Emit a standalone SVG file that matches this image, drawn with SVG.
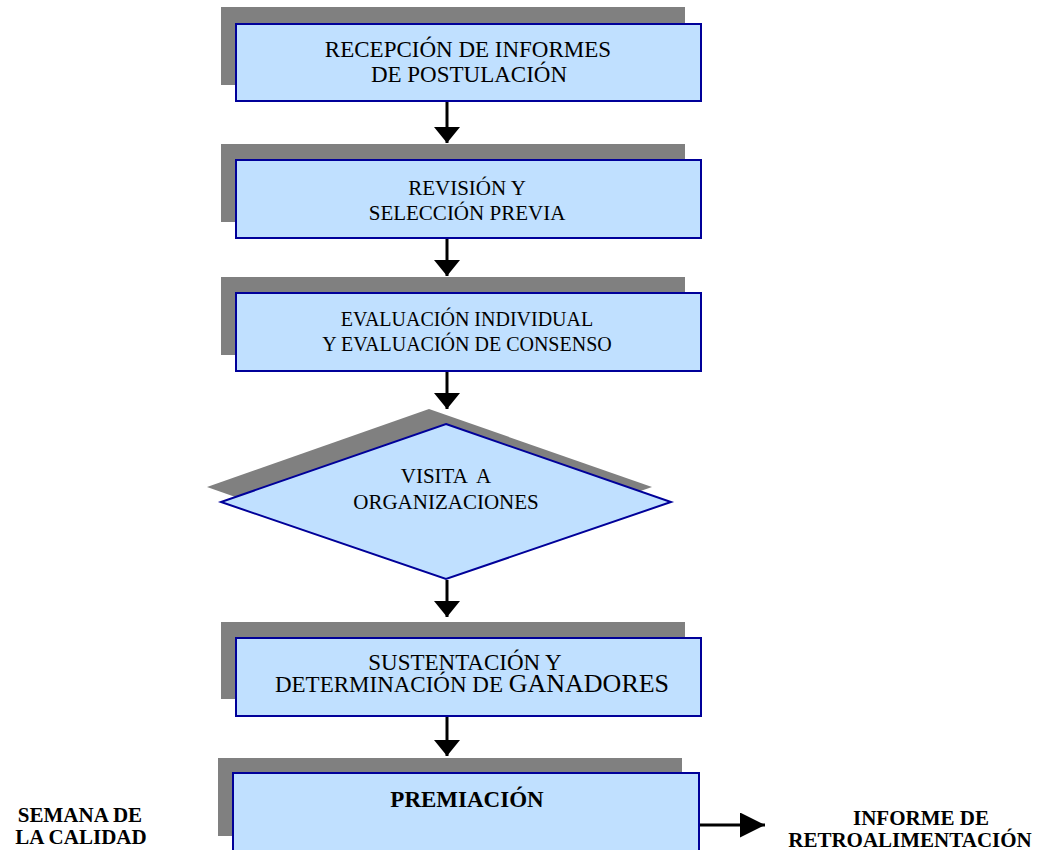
<svg xmlns="http://www.w3.org/2000/svg" width="1048" height="850" viewBox="0 0 1048 850">
  <defs>
    <style>
      .shadow { fill: #808080; stroke: none; }
      .box { fill: #C0E0FF; stroke: #000099; stroke-width: 2; }
      .lbl { font-family: "Liberation Serif", "Times New Roman", serif; font-size: 23px; fill: #000000; text-anchor: middle; }
      .mid { font-size: 21px; }
      .small { font-size: 20px; }
      .big { font-size: 26px; }
      .bold { font-weight: bold; font-size: 21px; }
      .title { font-size: 23px; }
      .link { stroke: #000000; stroke-width: 3; fill: none; }
    </style>
    <marker id="arrow" markerWidth="25" markerHeight="25" viewBox="0 0 25 25" refX="25" refY="12.5" orient="auto" markerUnits="userSpaceOnUse">
      <path d="M0,0 L25,12.5 L0,25 Z" fill="#000000"/>
    </marker>
    <marker id="arrowDown" markerWidth="16" markerHeight="26" viewBox="0 0 16 26" refX="16" refY="13" orient="auto" markerUnits="userSpaceOnUse">
      <path d="M0,0 L16,13 L0,26 Z" fill="#000000"/>
    </marker>
  </defs>

  <!-- process steps -->
  <g id="recepcion">
    <rect class="shadow" x="221" y="7" width="464" height="78"/>
    <rect class="box" x="236" y="24" width="465" height="77"/>
    <text class="lbl" x="468" y="57">RECEPCIÓN DE INFORMES</text>
    <text class="lbl" x="469" y="82">DE POSTULACIÓN</text>
  </g>

  <g id="revision">
    <rect class="shadow" x="221" y="144" width="464" height="78"/>
    <rect class="box" x="236" y="160" width="465" height="78"/>
    <text class="lbl mid" x="467" y="195">REVISIÓN Y</text>
    <text class="lbl mid" x="467" y="220">SELECCIÓN PREVIA</text>
  </g>

  <g id="evaluacion">
    <rect class="shadow" x="221" y="277" width="464" height="78"/>
    <rect class="box" x="236" y="293" width="465" height="78"/>
    <text class="lbl small" x="467" y="326">EVALUACIÓN INDIVIDUAL</text>
    <text class="lbl small" x="467" y="351">Y EVALUACIÓN DE CONSENSO</text>
  </g>

  <g id="visita">
    <polygon class="shadow" points="429,409 652,487 429,565 207,487"/>
    <polygon class="box" points="446,424 671,502 446,579 221,502"/>
    <text class="lbl mid" x="446" y="483" xml:space="preserve">VISITA  A</text>
    <text class="lbl mid" x="446" y="509">ORGANIZACIONES</text>
  </g>

  <g id="sustentacion">
    <rect class="shadow" x="221" y="622" width="464" height="77"/>
    <rect class="box" x="236" y="638" width="465" height="78"/>
    <text class="lbl" x="465" y="670">SUSTENTACIÓN Y</text>
    <text class="lbl" x="472" y="692">DETERMINACIÓN DE <tspan class="big">GANADORES</tspan></text>
  </g>

  <g id="premiacion">
    <rect class="shadow" x="218" y="758" width="464" height="78"/>
    <rect class="box" x="233" y="773" width="466" height="90"/>
    <text class="lbl bold title" x="467" y="807">PREMIACIÓN</text>
  </g>

  <g id="semana">
    <text class="lbl bold" x="80" y="822">SEMANA DE</text>
    <text class="lbl bold" x="81" y="844">LA CALIDAD</text>
  </g>

  <g id="informe">
    <text class="lbl bold" x="921" y="825">INFORME DE</text>
    <text class="lbl bold" x="910" y="847">RETROALIMENTACIÓN</text>
  </g>

  <!-- connectors -->
  <g id="connectors">
    <line class="link" x1="447" y1="102" x2="447" y2="143" marker-end="url(#arrowDown)"/>
    <line class="link" x1="447" y1="239" x2="447" y2="276" marker-end="url(#arrowDown)"/>
    <line class="link" x1="447" y1="372" x2="447" y2="409" marker-end="url(#arrowDown)"/>
    <line class="link" x1="447" y1="580" x2="447" y2="617" marker-end="url(#arrowDown)"/>
    <line class="link" x1="447" y1="717" x2="447" y2="756" marker-end="url(#arrowDown)"/>
    <line class="link" x1="700" y1="825" x2="765" y2="825" marker-end="url(#arrow)"/>
  </g>
</svg>
